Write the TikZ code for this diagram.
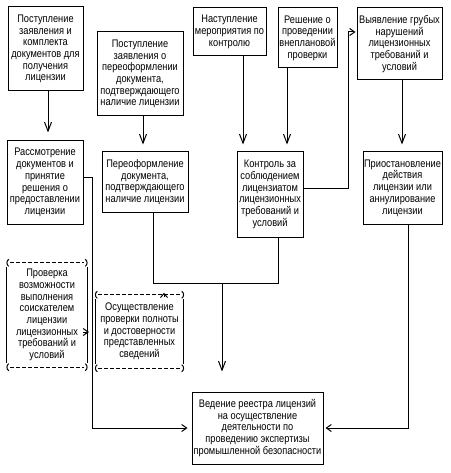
\documentclass[tikz,border=0pt]{standalone}
\usepackage{fontspec}
\setmainfont{Liberation Sans}[FakeStretch=0.84]
\usetikzlibrary{arrows.meta}
\tikzset{
  box/.style={draw, line width=1pt, align=center, inner sep=0pt,
    font=\fontsize{11}{11.7}\selectfont},
  dbox/.style={align=center, inner sep=0pt,
    font=\fontsize{11}{11.7}\selectfont},
  conn/.style={line width=1pt},
  varr/.style={conn, -{Straight Barb[length=9pt,width=7pt,line width=1pt]}},
  harr/.style={conn, -{Straight Barb[length=5pt,width=7pt,line width=1pt]}},
  dedge/.style={line width=1pt, dash pattern=on 4pt off 2pt},
  sedge/.style={line width=1pt, solid},
}
\newcommand\myparL[1]{\draw[sedge] ([xshift=2pt,yshift=3.5pt]#1) .. controls ([xshift=-0.5pt,yshift=2.5pt]#1) and ([xshift=-0.5pt,yshift=-2.5pt]#1) .. ([xshift=2pt,yshift=-3.5pt]#1);}
\newcommand\myparR[1]{\draw[sedge] ([xshift=-2pt,yshift=3.5pt]#1) .. controls ([xshift=0.5pt,yshift=2.5pt]#1) and ([xshift=0.5pt,yshift=-2.5pt]#1) .. ([xshift=-2pt,yshift=-3.5pt]#1);}
\newcommand\mydbox[1]{%
  \draw[dedge] ([xshift=3pt]#1.north west) -- ([xshift=-3pt]#1.north east);
  \draw[dedge] ([xshift=3pt]#1.south west) -- ([xshift=-3pt]#1.south east);
  \draw[sedge] ([yshift=-4pt]#1.north west) -- ([yshift=4pt]#1.south west);
  \draw[sedge] ([yshift=-4pt]#1.north east) -- ([yshift=4pt]#1.south east);
  \myparL{#1.north west}\myparL{#1.south west}
  \myparR{#1.north east}\myparR{#1.south east}}
\begin{document}
\begin{tikzpicture}[x=1pt,y=-1pt]
\fill[white] (0,0) rectangle (450,473);
\useasboundingbox (0,0) rectangle (450,473);

\node[box, minimum width=75pt, minimum height=84pt] (b1) at (45.5,49)
  {Поступление\\заявления и\\комплекта\\документов для\\получения\\лицензии};
\node[box, minimum width=86pt, minimum height=84pt] (b2) at (140,74)
  {Поступление\\заявления о\\переоформлении\\документа,\\подтверждающего\\наличие лицензии};
\node[box, minimum width=73pt, minimum height=48pt] (b3) at (229.5,32)
  {Наступление\\мероприятия по\\контролю};
\node[box, minimum width=59pt, minimum height=60pt] (b4) at (307.5,38)
  {Решение о\\проведении\\внеплановой\\проверки};
\node[box, minimum width=85pt, minimum height=72pt] (b5) at (399.5,44)
  {Выявление грубых\\нарушений\\лицензионных\\требований и\\условий};

\node[box, minimum width=76pt, minimum height=83pt] (r1) at (45,182.5)
  {Рассмотрение\\документов и\\принятие\\решения о\\предоставлении\\лицензии};
\node[box, minimum width=86pt, minimum height=60pt] (r2) at (145,182)
  {Переоформление\\документа,\\подтверждающего\\наличие лицензии};
\node[box, minimum width=66pt, minimum height=85pt] (r3) at (270,194.5)
  {Контроль за\\соблюдением\\лицензиатом\\лицензионных\\требований и\\условий};
\node[box, minimum width=79pt, minimum height=72pt] (r4) at (402.5,188)
  {Приостановление\\действия\\лицензии или\\аннулирование\\лицензии};

\node[box, minimum width=131pt, minimum height=72pt] (bot) at (257.5,428)
  {Ведение реестра лицензий\\на осуществление\\деятельности по\\проведению экспертизы\\промышленной безопасности};

\node[dbox, minimum width=80pt, minimum height=104pt] (d1) at (47,315)
  {Проверка\\возможности\\выполнения\\соискателем\\лицензии\\лицензионных\\требований и\\условий};
\node[dbox, minimum width=88pt, minimum height=73pt] (d2) at (139.5,331.5)
  {Осуществление\\проверки полноты\\и достоверности\\представленных\\сведений};
\mydbox{d1}
\mydbox{d2}

% vertical arrows from top row
\draw[varr, shorten >=8pt] ([xshift=2.5pt]b1.south) -- ([xshift=3pt]r1.north);
\draw[varr, shorten >=7pt] ([xshift=3pt]b2.south) -- ([xshift=-2pt]r2.north);
\draw[varr, shorten >=7pt] ([xshift=13.5pt]b3.south) -- ([xshift=-27pt]r3.north);
\draw[varr, shorten >=7pt] ([xshift=-20.5pt]b4.south) -- ([xshift=17pt]r3.north);
\draw[varr, shorten >=7pt] ([xshift=2.5pt]b5.south) -- ([xshift=-0.5pt]r4.north);

% control -> gross violations
\coordinate (c1) at (348,188);
\coordinate (c2) at (348,32);
\draw[harr, shorten >=1pt] ([yshift=6.5pt]r3.east) -- (c1) -- (c2) -- ([yshift=12pt]b5.west);

% left trunk
\coordinate (k1) at (92,177);
\coordinate (k2) at (92,428);
\coordinate (k3) at (92,332);
\draw[harr, shorten >=4pt] ([yshift=5.5pt]r1.east) -- (k1) -- (k2) -- (bot.west);
\draw[harr, shorten >=3pt] ([xshift=-4pt,yshift=-17pt]d1.east) -- (k3);

% right trunk
\coordinate (k4) at (408,428);
\draw[harr, shorten >=2pt] ([xshift=5.5pt]r4.south) -- (k4) -- (bot.east);

% middle merge
\coordinate (m1) at (153,283);
\coordinate (m2) at (278,283);
\coordinate (j) at (222,283);
\draw[conn] ([xshift=8pt]r2.south) -- (m1) -- (m2) -- ([xshift=8pt]r3.south);
\draw[varr, shorten >=20pt] (j) -- (j |- bot.north);

% up tip on dashed box
\draw[conn, -{Straight Barb[length=4pt,width=7pt,line width=1pt]}] ([xshift=24.5pt,yshift=-2pt]d2.north) -- ([xshift=24.5pt,yshift=2pt]d2.north);
\end{tikzpicture}
\end{document}
